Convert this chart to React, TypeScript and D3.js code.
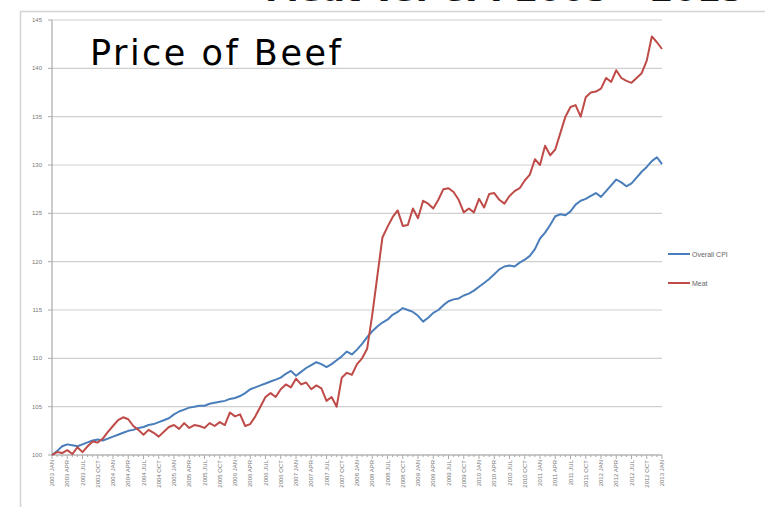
import React from "react";
import * as d3 from "d3";

const years = d3.range(2003, 2014);
const quarterMonths = ["JAN", "APR", "JUL", "OCT"];
const tickLabels: string[] = [];
years.forEach((y) => quarterMonths.forEach((m) => { if (y < 2013 || m === "JAN") tickLabels.push(`${y} ${m}`); }));

const cpi = [
  100, 100.4, 100.9, 101.1, 101.0, 100.9, 101.1, 101.3, 101.5, 101.6,
  101.5, 101.7, 101.9, 102.1, 102.3, 102.5, 102.6, 102.8, 102.9, 103.1,
  103.2, 103.4, 103.6, 103.8, 104.2, 104.5, 104.7, 104.9, 105.0, 105.1,
  105.1, 105.3, 105.4, 105.5, 105.6, 105.8, 105.9, 106.1, 106.4, 106.8,
  107.0, 107.2, 107.4, 107.6, 107.8, 108.0, 108.4, 108.7, 108.2, 108.6,
  109.0, 109.3, 109.6, 109.4, 109.1, 109.4, 109.8, 110.2, 110.7, 110.4,
  110.9, 111.5, 112.2, 112.8, 113.3, 113.7, 114.0, 114.5, 114.8, 115.2,
  115.0, 114.8, 114.4, 113.8, 114.2, 114.7, 115.0, 115.5, 115.9, 116.1,
  116.2, 116.5, 116.7, 117.0, 117.4, 117.8, 118.2, 118.7, 119.2, 119.5,
  119.6, 119.5, 119.9, 120.2, 120.6, 121.3, 122.4, 123.0, 123.8, 124.7,
  124.9, 124.8, 125.2, 125.9, 126.3, 126.5, 126.8, 127.1, 126.7, 127.3,
  127.9, 128.5, 128.2, 127.8, 128.1, 128.7, 129.3, 129.8, 130.4, 130.8,
  130.1,
];

const meat = [
  100, 100.3, 100.2, 100.5, 100.1, 100.8, 100.3, 100.9, 101.4, 101.3,
  101.7, 102.4, 103.0, 103.6, 103.9, 103.7, 103.0, 102.6, 102.1, 102.6,
  102.3, 101.9, 102.4, 102.9, 103.1, 102.7, 103.3, 102.8, 103.1, 103.0,
  102.8, 103.3, 103.0, 103.4, 103.1, 104.4, 104.0, 104.2, 103.0, 103.2,
  104.0, 105.0, 106.0, 106.4, 106.0, 106.8, 107.3, 107.0, 107.9, 107.3,
  107.5, 106.8, 107.2, 106.9, 105.6, 106.0, 105.0, 108.0, 108.5, 108.3,
  109.4, 110.0, 111.0, 114.5, 118.5, 122.5, 123.6, 124.6, 125.3, 123.7,
  123.8, 125.5, 124.5, 126.3, 126.0, 125.5, 126.4, 127.5, 127.6, 127.2,
  126.4, 125.1, 125.5, 125.1, 126.5, 125.6, 127.0, 127.1, 126.4, 126.0,
  126.8, 127.3, 127.6, 128.4, 129.0, 130.6, 130.0, 132.0, 131.0, 131.6,
  133.3, 135.0, 136.0, 136.2, 135.0, 137.0, 137.5, 137.6, 137.9, 139.0,
  138.6, 139.8, 139.0, 138.7, 138.5, 139.0, 139.5, 140.8, 143.3, 142.7,
  142.0,
];

const yTicks = d3.range(100, 146, 5);
const seriesNames = ["Overall CPI", "Meat"];
const seriesColors = ["#4a7ebb", "#be4b48"];

export default function App() {
  const x0 = 52, x1 = 662, yTop = 20, yBot = 455;
  const x = d3.scaleLinear().domain([0, cpi.length - 1]).range([x0, x1]);
  const y = d3.scaleLinear().domain([100, 145]).range([yBot, yTop]);
  const line = d3.line<number>().x((_, i) => x(i)).y((d) => y(d));
  const series = [cpi, meat];
  const legendY = [254, 283];

  return (
    <svg width={765} height={507} style={{ position: "absolute", left: 0, top: 0, background: "#fff" }}>
      <rect x={0} y={0} width={765} height={507} fill="#fff" />
      <text x={265} y={1} fontSize={34} fontFamily="DejaVu Sans" fontWeight="bold" fill="#111">Meat vs. CPI 2003 – 2013</text>
      <rect x={20.5} y={11.5} width={800} height={600} fill="#fff" stroke="#d4d4d4" strokeWidth={1.5} />
      {yTicks.map((t) => (
        <g key={t}>
          <line x1={x0} x2={x1} y1={y(t)} y2={y(t)} stroke="#cfcfcf" strokeWidth={1.2} />
          <line x1={x0 - 4} x2={x0} y1={y(t)} y2={y(t)} stroke="#aaa" />
          <text x={42} y={y(t) + 2} fontSize={6} textAnchor="end" fill="#777" fontFamily="Liberation Sans">{t}</text>
        </g>
      ))}
      <line x1={x0} x2={x0} y1={yTop} y2={yBot} stroke="#aaa" strokeWidth={1.2} />
      <line x1={x0} x2={x1} y1={yBot} y2={yBot} stroke="#aaa" strokeWidth={1.2} />
      {cpi.map((_, i) => (
        <line key={i} x1={x(i)} x2={x(i)} y1={yBot} y2={yBot + (i % 3 === 0 ? 4 : 2)} stroke="#aaa" />
      ))}
      {tickLabels.map((lab, k) => (
        <text key={lab} transform={`translate(${x(k * 3) + 2},460) rotate(-90)`} fontSize={6} textAnchor="end" fill="#777" fontFamily="Liberation Sans">{lab}</text>
      ))}
      {series.map((s, k) => (
        <path key={k} d={line(s) || ""} fill="none" stroke={seriesColors[k]} strokeWidth={2} strokeLinejoin="round" />
      ))}
      {seriesNames.map((n, k) => (
        <g key={n}>
          <line x1={668} x2={690} y1={legendY[k]} y2={legendY[k]} stroke={seriesColors[k]} strokeWidth={2} />
          <text x={692} y={legendY[k] + 2.5} fontSize={7} fill="#666" fontFamily="Liberation Sans">{n}</text>
        </g>
      ))}
      <text x={90} y={65} fontSize={35} letterSpacing={2.5} fontFamily="DejaVu Sans" fill="#000">Price of Beef</text>
    </svg>
  );
}
